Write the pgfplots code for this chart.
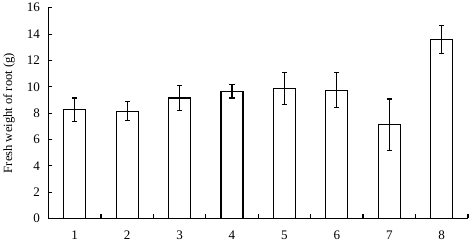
\documentclass[border=0pt]{standalone}
\usepackage{fontspec}
\setmainfont{Liberation Serif}
\usepackage{pgfplots}
\pgfplotsset{compat=1.18}
\begin{document}
\begin{tikzpicture}
\begin{axis}[
  scale only axis,
  width=416bp, height=209bp,
  xmin=0.5, xmax=8.5,
  ymin=0, ymax=16,
  axis x line*=bottom,
  axis y line*=left,
  axis line style={line width=1.1pt},
  xtick={1,...,8},
  xtick style={draw=none},
  ytick={0,2,...,16},
  major tick length=3.5bp,
  tick align=inside,
  ytick style={black, line width=1.1pt},
  ylabel={Fresh weight of root (g)},
  ylabel style={font=\fontsize{12.5}{14}\selectfont, yshift=5bp},
  tick label style={font=\fontsize{13}{15}\selectfont},
  /pgf/number format/assume math mode=true,
  xticklabel style={yshift=-9bp},
  yticklabel style={xshift=-5bp},
  clip=false,
]
\addplot[ybar, bar width=0.42, fill=white, draw=black, line width=1.1pt,
  error bars/.cd, y dir=both, y explicit, error mark options={rotate=90, mark size=2.5bp, line width=1.1pt}, error bar style={line width=1.1pt}]
  coordinates {
  (1,8.25) +- (0,0.9)
  (2,8.15) +- (0,0.7)
  (3,9.15) +- (0,0.93)
  (4,9.65) +- (0,0.5)
  (5,9.85) +- (0,1.2)
  (6,9.75) +- (0,1.35)
  (7,7.12) +- (0,1.95)
  (8,13.6) +- (0,1.05)
  };
\addplot[ycomb, black, line width=1.3pt, no marks] coordinates {
  (1.5,0.34) (2.5,0.34) (3.5,0.34) (4.5,0.34) (5.5,0.34) (6.5,0.34) (7.5,0.34) (8.5,0.34)
  };
\end{axis}
\path (current axis.south east) ++(4bp,0) coordinate (pad);
\end{tikzpicture}
\end{document}
